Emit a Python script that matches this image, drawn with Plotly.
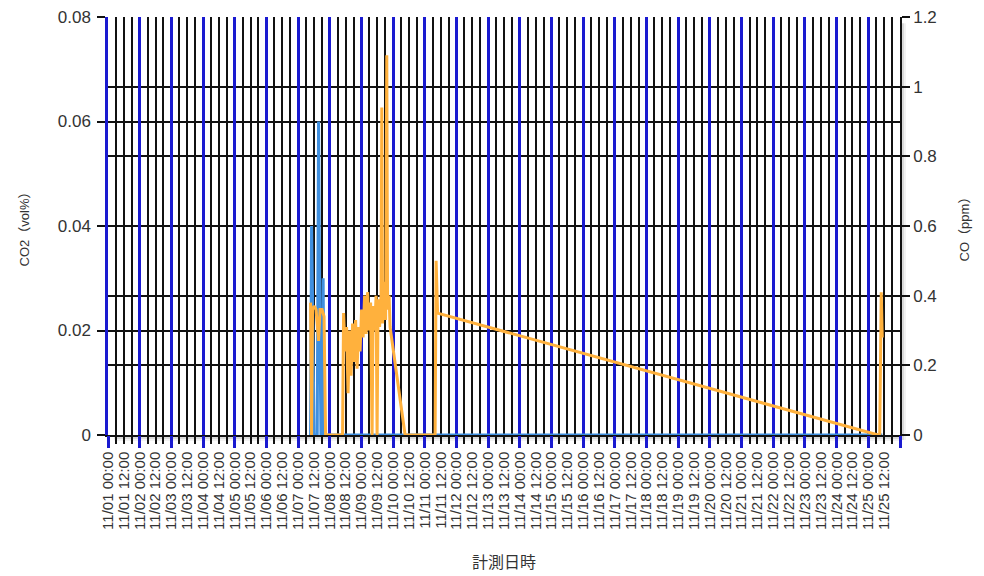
import plotly.graph_objects as go
from datetime import datetime

YEAR = "2023"

# ---- CO2 (vol%) series, left axis ----
co2_times = [
    "11/07 09:28", "11/07 10:13", "11/07 10:58", "11/07 12:07", "11/07 14:30",
    "11/07 15:31", "11/07 16:40", "11/07 17:20", "11/07 18:10", "11/07 19:00",
    "11/07 19:41", "11/08 09:42", "11/09 21:42", "11/10 09:04", "11/11 09:42",
    "11/25 07:31", "11/25 10:33",
]
co2_values = [
    0.0, 0.040, 0.026, 0.0, 0.0,
    0.060, 0.017, 0.0, 0.0, 0.030,
    0.0, 0.0, 0.0, 0.0, 0.0,
    0.0, 0.0,
]

# ---- CO (ppm) series, right axis ----
co_times = [
    "11/07 09:28", "11/07 10:13", "11/07 10:58", "11/07 12:07", "11/07 13:38",
    "11/07 15:31", "11/07 16:40", "11/07 18:10", "11/07 19:41", "11/07 20:50",
    "11/08 09:42", "11/08 10:28", "11/08 11:36", "11/08 12:44", "11/08 13:52",
    "11/08 15:01", "11/08 16:09", "11/08 17:17", "11/08 18:25", "11/08 19:34",
    "11/08 20:42", "11/08 21:50", "11/08 22:58", "11/09 00:07", "11/09 01:15",
    "11/09 02:23", "11/09 03:31", "11/09 04:40", "11/09 05:48", "11/09 06:56",
    "11/09 08:04", "11/09 08:50", "11/09 09:58", "11/09 11:06", "11/09 11:52",
    "11/09 12:37", "11/09 13:45", "11/09 14:53", "11/09 15:25", "11/09 16:01",
    "11/09 17:10", "11/09 18:18", "11/09 19:12", "11/09 19:48", "11/09 20:56",
    "11/09 21:42", "11/10 09:04", "11/11 07:48", "11/11 08:34", "11/11 09:42",
    "11/25 07:31", "11/25 08:39", "11/25 09:47", "11/25 10:33",
]
co_values = [
    0.38, 0.0, 0.36, 0.37, 0.36,
    0.27, 0.36, 0.36, 0.34, 0.0,
    0.0, 0.35, 0.24, 0.31, 0.12,
    0.30, 0.17, 0.32, 0.21, 0.33,
    0.19, 0.31, 0.24, 0.36, 0.28,
    0.40, 0.29, 0.41, 0.30, 0.38,
    0.0, 0.37, 0.30, 0.40, 0.0,
    0.39, 0.31, 0.40, 0.94, 0.32,
    0.44, 0.33, 1.09, 0.36, 0.40,
    0.31, 0.0, 0.0, 0.50, 0.35,
    0.0, 0.0, 0.41, 0.28,
]

# ---- x tick labels (every 12 h) ----
x_tick_labels = [
    "11/01 00:00", "11/01 12:00", "11/02 00:00", "11/02 12:00", "11/03 00:00",
    "11/03 12:00", "11/04 00:00", "11/04 12:00", "11/05 00:00", "11/05 12:00",
    "11/06 00:00", "11/06 12:00", "11/07 00:00", "11/07 12:00", "11/08 00:00",
    "11/08 12:00", "11/09 00:00", "11/09 12:00", "11/10 00:00", "11/10 12:00",
    "11/11 00:00", "11/11 12:00", "11/12 00:00", "11/12 12:00", "11/13 00:00",
    "11/13 12:00", "11/14 00:00", "11/14 12:00", "11/15 00:00", "11/15 12:00",
    "11/16 00:00", "11/16 12:00", "11/17 00:00", "11/17 12:00", "11/18 00:00",
    "11/18 12:00", "11/19 00:00", "11/19 12:00", "11/20 00:00", "11/20 12:00",
    "11/21 00:00", "11/21 12:00", "11/22 00:00", "11/22 12:00", "11/23 00:00",
    "11/23 12:00", "11/24 00:00", "11/24 12:00", "11/25 00:00", "11/25 12:00",
]
x_range = ["11/01 00:00", "11/26 00:00"]
co2_ticks = [0, 0.02, 0.04, 0.06, 0.08]
co_ticks = [0, 0.2, 0.4, 0.6, 0.8, 1.0, 1.2]


def to_dt(s):
    return datetime.strptime(YEAR + "/" + s, "%Y/%m/%d %H:%M")


def fmt(d):
    return d.strftime("%Y-%m-%d %H:%M")


co2_x = [fmt(to_dt(t)) for t in co2_times]
co_x = [fmt(to_dt(t)) for t in co_times]
tickvals = [fmt(to_dt(t)) for t in x_tick_labels]
xr = [fmt(to_dt(t)) for t in x_range]

FONT = "Liberation Sans, Arial, Noto Sans CJK JP, sans-serif"
TXT = "#333333"
BLUE_GRID = "#1a1ad0"
BLACK = "#111111"

fig = go.Figure()
fig.add_trace(go.Scatter(
    x=co2_x, y=co2_values, mode="lines", name="CO2",
    line=dict(color="#3f8fdf", width=3), xaxis="x", yaxis="y",
    showlegend=False,
))
# helper (empty) trace so the daily blue grid axis gets its own overlay
fig.add_trace(go.Scatter(
    x=xr, y=[None, None], mode="lines", xaxis="x2", yaxis="y",
    showlegend=False, hoverinfo="skip",
))
fig.add_trace(go.Scatter(
    x=co_x, y=co_values, mode="lines", name="CO",
    line=dict(color="#ffb13d", width=3), xaxis="x", yaxis="y2",
    showlegend=False,
))

# soft drop shadow along right and bottom edges of the plot area
for off, alpha in [(2, 0.16), (4, 0.10), (6, 0.05)]:
    fig.add_shape(type="rect", xref="paper", yref="paper", layer="below",
                  xsizemode="pixel", xanchor=1, x0=1, x1=off,
                  y0=-0.012, y1=0.985,
                  line=dict(width=0), fillcolor=f"rgba(0,0,0,{alpha})")
    fig.add_shape(type="rect", xref="paper", yref="paper", layer="below",
                  ysizemode="pixel", yanchor=0, y0=-off, y1=0,
                  x0=0.008, x1=1.0,
                  line=dict(width=0), fillcolor=f"rgba(0,0,0,{alpha})")

fig.update_layout(
    width=984, height=576,
    margin=dict(l=100, r=92, t=9, b=149),
    paper_bgcolor="white", plot_bgcolor="white",
    font=dict(family=FONT, color=TXT),
    xaxis=dict(
        type="date", range=xr, automargin=False,
        tickmode="array", tickvals=tickvals, ticktext=x_tick_labels,
        tickangle=-90, tickfont=dict(size=15, color=TXT, family=FONT),
        showgrid=True, gridcolor=BLACK, gridwidth=1.6,
        ticks="outside", ticklen=7, tickcolor=BLACK, tickwidth=1.5,
        minor=dict(tickmode="linear", tick0=xr[0], dtick=6 * 3600 * 1000,
                   showgrid=True, gridcolor=BLACK, gridwidth=1.6,
                   ticks="outside", ticklen=7, tickcolor=BLACK, tickwidth=1.5),
        showline=True, linecolor=BLACK, linewidth=1.5,
        zeroline=False,
        title=dict(text="計測日時", font=dict(size=16, color=TXT,
                   family="Noto Sans CJK JP, sans-serif"), standoff=28),
        ticklabelstandoff=2,
    ),
    xaxis2=dict(
        type="date", range=xr, overlaying="x", anchor="y", side="bottom",
        automargin=False,
        tickmode="linear", tick0=xr[0], dtick=86400000,
        showticklabels=False,
        showgrid=True, gridcolor=BLUE_GRID, gridwidth=2.5,
        ticks="outside", ticklen=12, tickcolor=BLUE_GRID, tickwidth=2.5,
        showline=False, zeroline=False,
    ),
    yaxis=dict(
        range=[0, 0.08], tickmode="array", tickvals=co2_ticks, automargin=False,
        tickfont=dict(size=17, color=TXT, family=FONT),
        showgrid=True, gridcolor=BLACK, gridwidth=1.6,
        ticks="outside", ticklen=8, tickcolor=BLACK, tickwidth=1.5,
        showline=True, linecolor=BLUE_GRID, linewidth=2.5,
        zeroline=False,
        ticklabelstandoff=3, ticklabeloverflow="allow",
        title=dict(text="CO2（vol%）", font=dict(size=13, color=TXT), standoff=26),
    ),
    yaxis2=dict(
        range=[0, 1.2], tickmode="array", tickvals=co_ticks,
        overlaying="y", side="right", anchor="x", automargin=False,
        tickfont=dict(size=17, color=TXT, family=FONT),
        showgrid=True, gridcolor=BLACK, gridwidth=1.6,
        ticks="outside", ticklen=8, tickcolor=BLACK, tickwidth=1.5,
        showline=True, linecolor=BLACK, linewidth=1.6,
        zeroline=False,
        ticklabelstandoff=0, ticklabeloverflow="allow",
        title=dict(text="CO（ppm）", font=dict(size=13, color=TXT), standoff=24),
    ),
)

fig.write_html("out.html")
